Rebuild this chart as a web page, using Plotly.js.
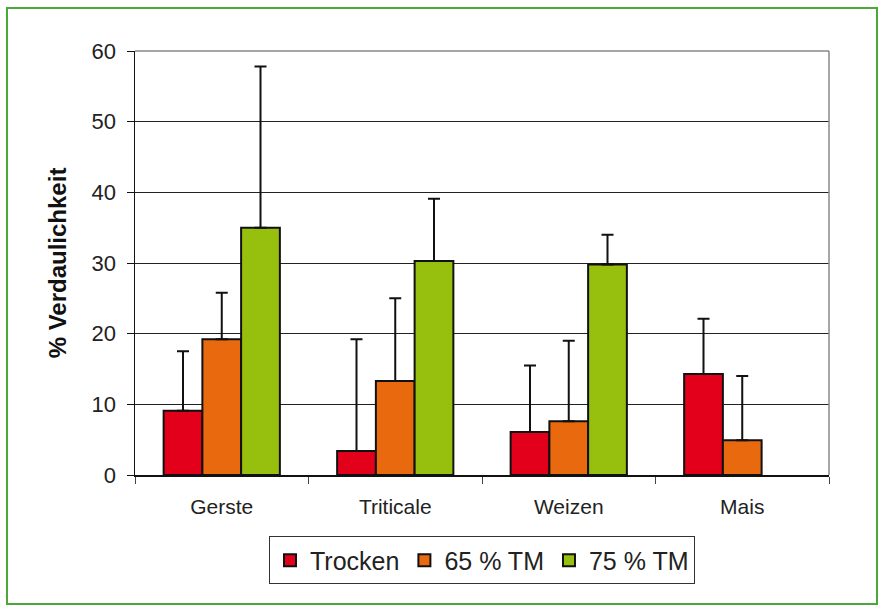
<!DOCTYPE html>
<html><head><meta charset="utf-8">
<script src="https://cdn.plot.ly/plotly-3.0.1.min.js"></script>
<style>
html,body{margin:0;padding:0;background:#fff;}
#wrap{position:relative;width:885px;height:610px;}
#chart{width:885px;height:610px;}
#frame{position:absolute;left:6px;top:7px;width:872px;height:598px;border:2px solid #4aa83a;box-sizing:border-box;pointer-events:none;}
</style></head>
<body>
<div id="wrap"><div id="chart"></div><div id="frame"></div></div>
<script>
const categories = ["Gerste", "Triticale", "Weizen", "Mais"];
const seriesNames = ["Trocken", "65 % TM", "75 % TM"];
const trocken = [9.1, 3.4, 6.1, 14.3];
const trockenErrTop = [17.5, 19.2, 15.5, 22.1];
const tm65 = [19.2, 13.3, 7.6, 4.9];
const tm65ErrTop = [25.8, 25.0, 19.0, 14.0];
const tm75 = [35.0, 30.3, 29.8, null];
const tm75ErrTop = [57.8, 39.1, 34.0, null];
const colors = ["#E2001A", "#E96A0E", "#97BF0D"];

function mk(name, vals, tops, color){
  return {
    type: "bar", name: name, x: categories, y: vals,
    marker: {color: color, line: {color: "#111", width: 2}},
    error_y: {type: "data", symmetric: false,
      array: vals.map((v,i)=> v==null ? null : tops[i]-v),
      arrayminus: vals.map(()=>0),
      color: "#111", thickness: 2, width: 6}
  };
}
const data = [
  mk(seriesNames[0], trocken, trockenErrTop, colors[0]),
  mk(seriesNames[1], tm65, tm65ErrTop, colors[1]),
  mk(seriesNames[2], tm75, tm75ErrTop, colors[2])
];
const layout = {
  width: 885, height: 610,
  margin: {l: 135, r: 56, t: 51, b: 135},
  paper_bgcolor: "#fff", plot_bgcolor: "#fff",
  barmode: "group", bargap: 0.33, bargroupgap: 0,
  font: {family: "'Liberation Sans', Arial, sans-serif", color: "#222"},
  xaxis: {
    type: "category", tickson: "boundaries", ticks: "outside", ticklen: 7,
    tickcolor: "#444", showgrid: false, showline: true, linecolor: "#111", linewidth: 1.5,
    tickfont: {size: 21, color: "#222"}, ticklabelstandoff: 12
  },
  yaxis: {
    range: [0, 60], dtick: 10, ticks: "outside", ticklen: 7, tickcolor: "#111",
    showgrid: true, gridcolor: "#222", gridwidth: 1,
    showline: true, linecolor: "#111", linewidth: 1.5, zeroline: false,
    tickfont: {size: 22, color: "#222"}, ticklabelstandoff: 6,
    title: {text: "<b>% Verdaulichkeit</b>", font: {size: 24, color: "#111"}, standoff: 18}
  },
  shapes: [
    {type: "line", xref: "paper", yref: "paper", x0: 1, x1: 1, y0: 0, y1: 1, line: {color: "#888", width: 1.5}},
    {type: "line", xref: "paper", yref: "paper", x0: 0, x1: 1, y0: 1, y1: 1, line: {color: "#888", width: 1.5}}
  ],
  showlegend: true,
  legend: {
    orientation: "h", x: 0.5, xanchor: "center", y: -0.145, yanchor: "top",
    bordercolor: "#333", borderwidth: 1, bgcolor: "#fff",
    font: {size: 25, color: "#222"}, itemwidth: 30, tracegroupgap: 0
  }
};
Plotly.newPlot("chart", data, layout, {displayModeBar: false, staticPlot: true});
</script>
</body></html>
